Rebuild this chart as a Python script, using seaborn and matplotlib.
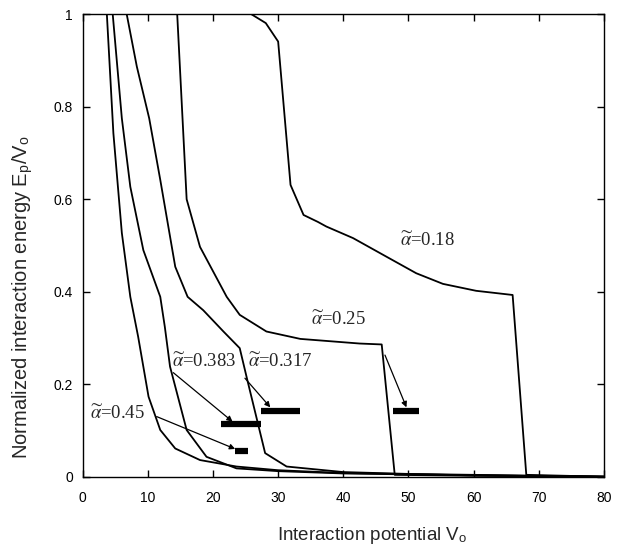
import matplotlib
matplotlib.use("Agg")
import matplotlib.pyplot as plt
import seaborn as sns
import numpy as np
import pandas as pd

# ---- data ----
a018_x = [25.9, 28.1, 30.0, 31.9, 33.9, 36.1, 37.4, 41.5, 46.6, 51.2, 55.3, 60.4, 66.0, 68.1, 80]
a018_y = [1.0, 0.981, 0.941, 0.631, 0.566, 0.551, 0.541, 0.516, 0.476, 0.44, 0.417, 0.402, 0.393, 0.004, 0.0]

a025_x = [14.5, 15.95, 18.0, 22.1, 24.1, 28.2, 33.4, 42.5, 45.9, 47.9, 60, 80]
a025_y = [1.0, 0.6, 0.497, 0.389, 0.35, 0.314, 0.298, 0.288, 0.286, 0.004, 0.002, 0.0]

a0317_x = [6.75, 8.3, 10.2, 11.9, 14.2, 16.1, 18.5, 21.6, 24.1, 25.2, 28.0, 31.3, 40, 50, 60, 80]
a0317_y = [1.0, 0.887, 0.775, 0.642, 0.454, 0.389, 0.36, 0.314, 0.278, 0.213, 0.051, 0.022, 0.01, 0.006, 0.004, 0.0]

a0383_x = [4.6, 6.0, 7.3, 9.3, 11.9, 12.6, 13.4, 15.95, 19.0, 23.6, 30, 40, 60, 80]
a0383_y = [1.0, 0.775, 0.627, 0.49, 0.389, 0.324, 0.238, 0.101, 0.043, 0.018, 0.012, 0.007, 0.003, 0.0]

a045_x = [3.7, 4.7, 6.0, 7.3, 8.5, 10.1, 11.9, 14.2, 18.0, 23.6, 30, 40, 60, 80]
a045_y = [1.0, 0.743, 0.527, 0.389, 0.303, 0.173, 0.101, 0.061, 0.036, 0.022, 0.014, 0.008, 0.003, 0.0]

series_names = ["0.18", "0.25", "0.317", "0.383", "0.45"]
series_x = [a018_x, a025_x, a0317_x, a0383_x, a045_x]
series_y = [a018_y, a025_y, a0317_y, a0383_y, a045_y]

# thick horizontal bars: (xstart, xend, y)
bar_x0 = [47.6, 27.4, 21.3, 23.4]
bar_x1 = [51.6, 33.4, 27.3, 25.3]
bar_y = [0.141, 0.143, 0.114, 0.056]

# labels: text position and arrow (start, end)
label_names = ["0.18", "0.25", "0.317", "0.383", "0.45"]
label_x = [48.7, 35.1, 25.4, 13.65, 1.1]
label_y = [0.511, 0.339, 0.249, 0.249, 0.137]
arrow_from_x = [None, 46.4, 24.9, 13.9, 11.35]
arrow_from_y = [None, 0.263, 0.213, 0.225, 0.13]
arrow_to_x = [None, 49.7, 28.8, 23.0, 23.4]
arrow_to_y = [None, 0.15, 0.15, 0.119, 0.06]

xticks = [0, 10, 20, 30, 40, 50, 60, 70, 80]
yticks = [0, 0.2, 0.4, 0.6, 0.8, 1.0]
ytick_labels = ["0", "0.2", "0.4", "0.6", "0.8", "1"]

# ---- build dataframe ----
rows = []
for name, xs, ys in zip(series_names, series_x, series_y):
    for i, (x, y) in enumerate(zip(xs, ys)):
        rows.append({"alpha": name, "V": x, "E": y, "order": i})
df = pd.DataFrame(rows)

sns.set_style("ticks")
plt.rcParams["font.family"] = ["Liberation Sans", "DejaVu Sans"]
plt.rcParams["mathtext.fontset"] = "stix"

fig = plt.figure(figsize=(6.27, 5.58), dpi=100)
ax = fig.add_axes([0.132, 0.1457, 0.831, 0.8287])

sns.lineplot(data=df, x="V", y="E", units="alpha", estimator=None, sort=False,
             color="black", linewidth=1.3, ax=ax, legend=False)

ax.hlines(bar_y, bar_x0, bar_x1, colors="black", linewidth=4.5)

for i, name in enumerate(label_names):
    ax.text(label_x[i], label_y[i], r"$\widetilde{\alpha}$=" + name,
            fontsize=13.5, family="Liberation Serif", va="center", ha="left")
    if arrow_from_x[i] is not None:
        ax.annotate("", xy=(arrow_to_x[i], arrow_to_y[i]),
                    xytext=(arrow_from_x[i], arrow_from_y[i]),
                    arrowprops=dict(arrowstyle="-|>", color="black", lw=0.9,
                                    mutation_scale=8, shrinkA=0, shrinkB=0))

ax.set_xlim(0, 80)
ax.set_ylim(0, 1)
ax.set_xticks(xticks)
ax.set_xticklabels([str(t) for t in xticks])
ax.set_yticks(yticks)
ax.set_yticklabels(ytick_labels)
ax.tick_params(direction="in", length=5, width=1, top=True, right=True,
               labelsize=10, colors="black")
ax.tick_params(axis="x", pad=10)
ax.tick_params(axis="y", pad=7)
for s in ax.spines.values():
    s.set_visible(True)
    s.set_color("black")
    s.set_linewidth(1.0)

ax.set_xlabel(r"Interaction potential V$_\mathregular{o}$", fontsize=13.5)
ax.set_ylabel(r"Normalized interaction energy E$_\mathregular{p}$/V$_\mathregular{o}$", fontsize=14.5)
ax.xaxis.set_label_coords(0.555, -0.105)
ax.yaxis.set_label_coords(-0.092, 0.389)

fig.savefig("out.png", dpi=100, facecolor="white")
